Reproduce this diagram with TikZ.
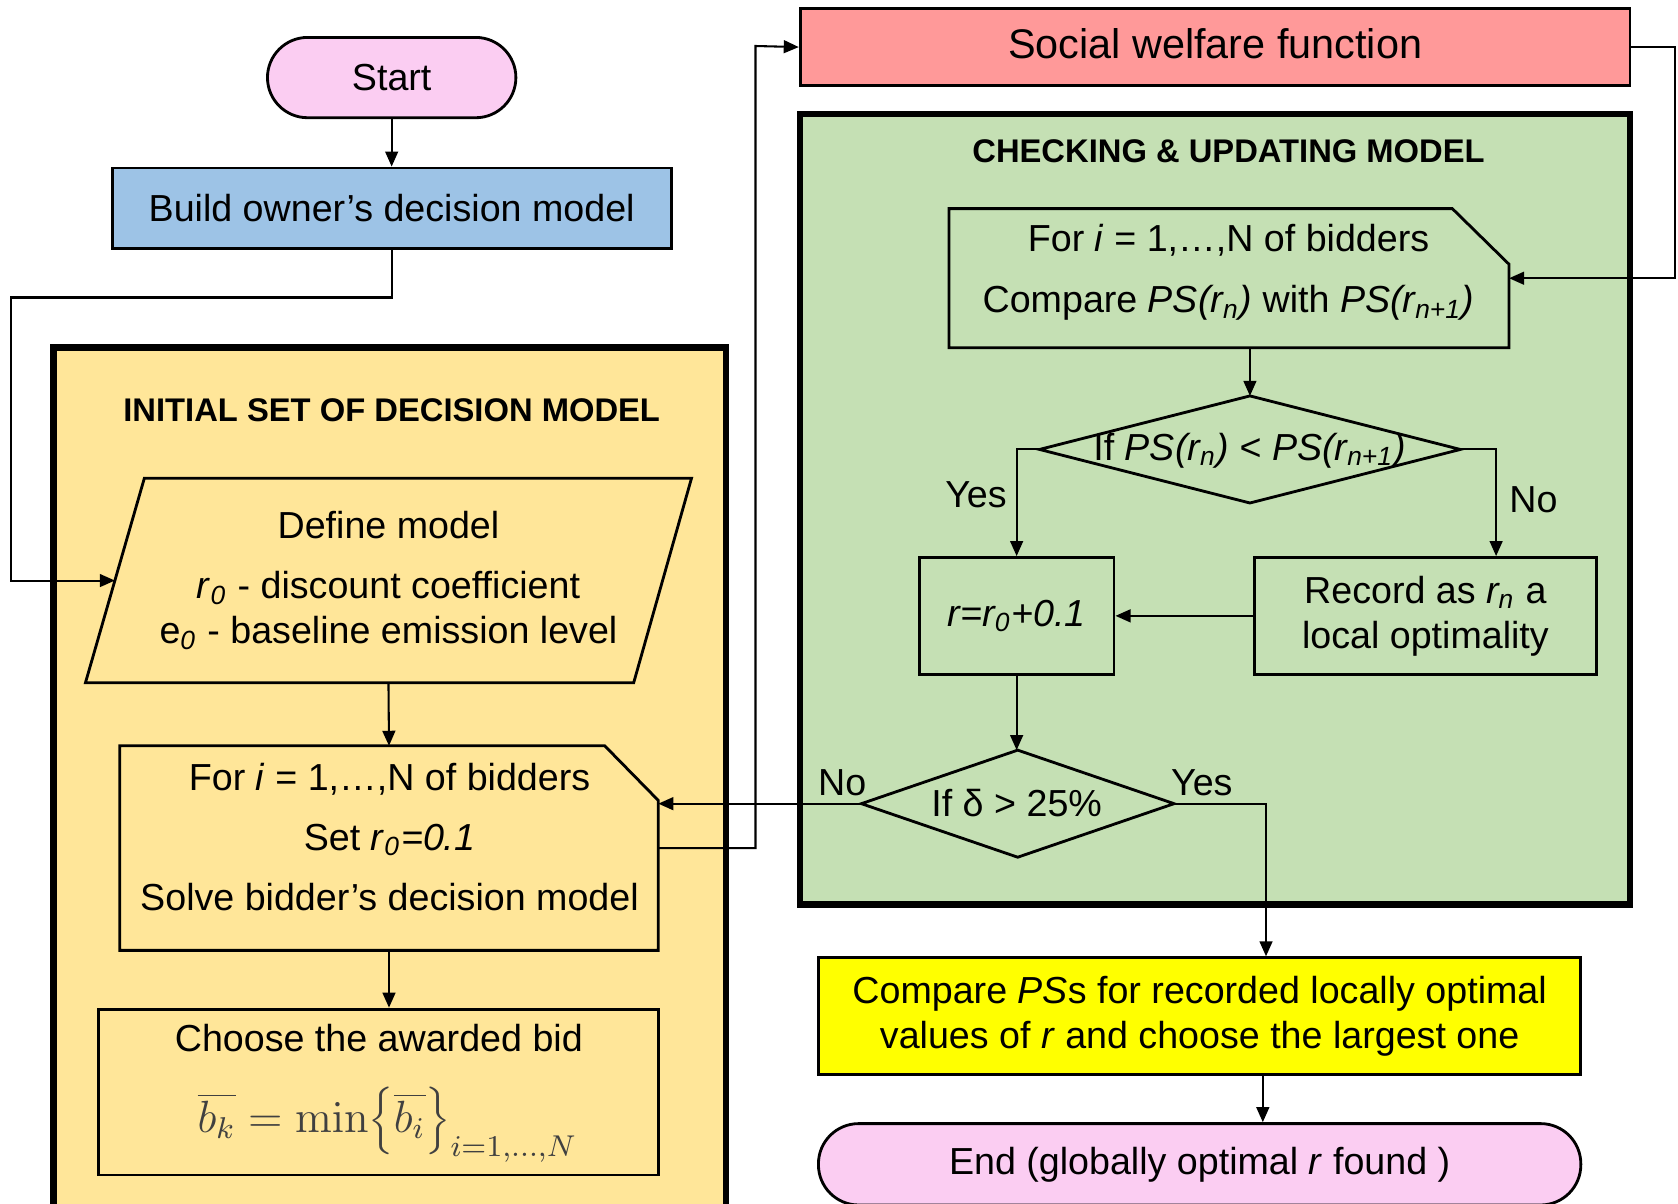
\documentclass[tikz,border=0pt]{standalone}
\usepackage[no-math]{fontspec}
\setmainfont{Liberation Sans}
\usetikzlibrary{arrows.meta}
\definecolor{pinkc}{HTML}{FBCDF2}
\definecolor{bluec}{HTML}{9DC3E6}
\definecolor{redc}{HTML}{FF9999}
\definecolor{greenc}{HTML}{C5E0B4}
\definecolor{yellc}{HTML}{FFE699}
\definecolor{cmpc}{HTML}{FFFF00}
\newcommand\sbs[1]{\textsubscript{#1}}
\begin{document}
\begin{tikzpicture}[x=0.01cm,y=-0.01cm,
  every node/.style={font=\fontsize{10}{12}\selectfont, inner sep=0pt, align=center},
  box/.style={draw=black, line width=0.75pt},
  boxline/.style={draw=black, line width=0.75pt},
  term/.style={rounded corners=0.375cm, fill=pinkc},
  cont/.style={draw=black, line width=1.7pt},
  frm/.style={inner sep=0pt, outer sep=0pt, draw=none},
  ttl/.style={font=\fontsize{8.7}{10}\selectfont\bfseries},
  conn/.style={line width=0.55pt, -{Triangle[length=4pt,width=3.4pt]}}
]
\useasboundingbox (0,0) rectangle (1568,1125);
% containers
\node[cont, fill=yellc, minimum width=6.28cm, minimum height=8.10cm] (ycont) at (364,730) {};
\node[cont, fill=greenc, minimum width=7.75cm, minimum height=7.38cm] (gcont) at (1135.5,476) {};
\node[ttl] (ytitle) at (366,383) {INITIAL SET OF DECISION MODEL};
\node[ttl] (gtitle) at (1148,141) {CHECKING \& UPDATING MODEL};
% top left
\node[box, term, minimum width=2.32cm, minimum height=0.75cm] (start) at (366,72.5) {Start};
\node[box, fill=bluec, minimum width=5.22cm, minimum height=0.75cm] (build) at (366,194.5) {Build owner’s decision model};
\node[box, fill=redc, minimum width=7.75cm, minimum height=0.72cm] (sw) at (1135.5,44) {};
\node[font=\fontsize{11}{13}\selectfont] (swtxt) at (1135.5,41) {Social welfare function};
% parallelogram
\node[frm, minimum width=5.66cm, minimum height=1.91cm] (def) at (363,542.5) {Define model\\[3.9pt] \textit{r}\sbs{\textit{0}} - discount coefficient\\ e\sbs{\textit{0}} - baseline emission level};
\draw[boxline] ([xshift=0.55cm]def.north west) -- (def.north east) -- ([xshift=-0.54cm]def.south east) -- (def.south west) -- cycle;
\coordinate (defL) at ([xshift=0.275cm]def.west);
% for box A
\node[frm, minimum width=5.03cm, minimum height=1.91cm] (forA) at (363.5,792.5) {};
\draw[boxline] (forA.south west) -- (forA.north west) -- ([xshift=-0.5cm]forA.north east) -- ([yshift=-0.51cm]forA.north east) -- (forA.south east) -- cycle;
\node (forAtxt) at (364,782) {For \textit{i} = 1,…,N of bidders\\[3.9pt] Set \textit{r}\sbs{\textit{0}}\textit{=0.1}\\[3.9pt] Solve bidder’s decision model};
% choose
\node[box, minimum width=5.23cm, minimum height=1.55cm] (choose) at (353.5,1020.5) {};
\node[anchor=base] (choosetxt) at (354,983) {Choose the awarded bid};
\node[anchor=base, font=\fontsize{12}{14}\selectfont, text=black!75] (formula) at (362,1058) {$\overline{b_k}=\min\Bigl\{\overline{b_i}\Bigr\}_{i=1,\ldots,N}$};
% for box B
\node[frm, minimum width=5.23cm, minimum height=1.30cm] (forB) at (1148.5,260) {};
\draw[boxline] (forB.south west) -- (forB.north west) -- ([xshift=-0.53cm]forB.north east) -- ([yshift=-0.52cm]forB.north east) -- (forB.south east) -- cycle;
\node (forBtxt) at (1148,254.5) {For \textit{i} = 1,…,N of bidders\\[4.2pt] Compare \textit{PS(r\sbs{n})} with \textit{PS(r\sbs{n+1})}};
% diamond 1
\node[frm, minimum width=3.93cm, minimum height=1.0cm] (d1) at (1168,420) {};
\draw[boxline] (d1.north) -- (d1.east) -- (d1.south) -- (d1.west) -- cycle;
\node (d1txt) at (1168,421) {If \textit{PS(r\sbs{n})} < \textit{PS(r\sbs{n+1})}};
% r box and record box
\node[box, minimum width=1.82cm, minimum height=1.09cm] (rbox) at (950,575.5) {\textit{r=r\sbs{0}+0.1}};
\node[box, minimum width=3.20cm, minimum height=1.09cm] (rec) at (1332,575.5) {Record as \textit{r\sbs{n}} a\\local optimality};
% diamond 2
\node[frm, minimum width=2.92cm, minimum height=1.0cm] (d2) at (951,751) {};
\draw[boxline] (d2.north) -- (d2.east) -- (d2.south) -- (d2.west) -- cycle;
\node (d2txt) at (950,750) {If δ > 25\%};
% compare and end
\node[box, fill=cmpc, minimum width=7.12cm, minimum height=1.09cm] (cmp) at (1121,949.5) {Compare \textit{PS}s for recorded locally optimal\\values of \textit{r} and choose the largest one};
\node[box, term, minimum width=7.12cm, minimum height=0.76cm] (endn) at (1121,1088) {End (globally optimal \textit{r} found )};
% labels
\node (yes1) at (912,462) {Yes};
\node (no1) at (1433,467) {No};
\node (no2) at (787,731) {No};
\node (yes2) at (1123,731) {Yes};
% connectors
\draw[conn] (start) -- (build);
\coordinate (c1) at (10,278);
\draw[conn] (build.south) |- (c1) |- (defL);
\draw[conn] (def.south) -- (forA.north);
\draw[conn] (forA.south) -- (forA.south |- choose.north);
\draw[conn] (d2.west) -- (d2.west -| forA.east);
\coordinate (c2) at (706,43);
\draw[conn] (forA.east) -| (c2) -- (sw.west);
\coordinate (c3) at (1565,260);
\draw[conn] (sw.east) -| (c3) -- (forB.east);
\draw[conn] (forB.south -| d1.north) -- (d1.north);
\draw[conn] (d1.west) -| (rbox.north);
\draw[conn] (d1.east) -| ([xshift=0.66cm]rec.north);
\draw[conn] (rec.west) -- (rbox.east);
\draw[conn] (rbox.south) -- (rbox.south |- d2.north);
\draw[conn] (d2.east) -| ([xshift=0.62cm]cmp.north);
\draw[conn] ([xshift=0.59cm]cmp.south) -- ([xshift=0.59cm]endn.north);
\end{tikzpicture}
\end{document}
